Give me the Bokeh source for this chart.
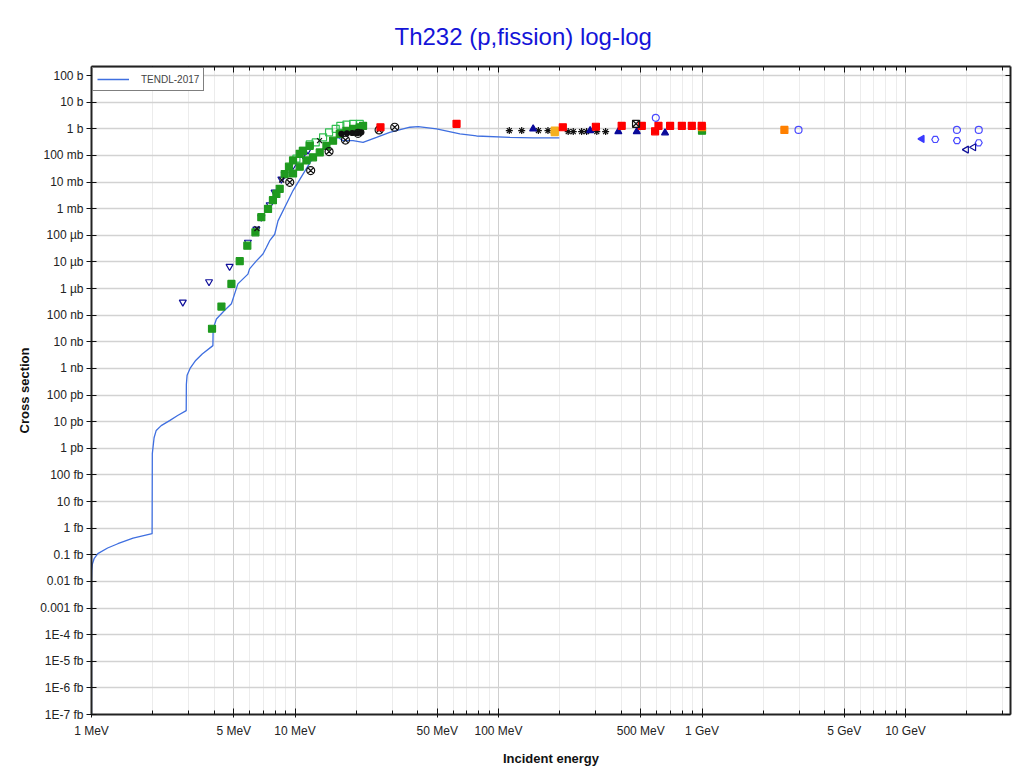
from bokeh.plotting import figure
from bokeh.models import (LogAxis, FixedTicker, ColumnDataSource, Legend, LegendItem,
                          Title, CustomJSTickFormatter, Range1d, Grid, LogScale)
from bokeh.embed import file_html
from bokeh.resources import INLINE

# ---------------- data (energy in MeV, cross section in barn) ----------------
tendl_E = [1.0, 1.0, 1.003, 1.01, 1.03, 1.074, 1.2, 1.347, 1.6, 1.985, 1.99, 2.03, 2.08, 2.2,
           2.42, 2.65, 2.92, 2.925, 2.95, 3.05, 3.25, 3.5, 3.95, 3.96, 4.11, 4.5, 4.87, 5.05,
           5.24, 5.87, 5.98, 6.46, 6.96, 7.23, 7.51, 7.95, 8.25, 9.07, 9.78, 10.95, 12.04,
           13.73, 15.38, 16.27, 17.22, 19.29, 21.6, 25.15, 29.2, 36.7, 40.3, 49.6, 64.6, 78.0,
           113.8, 148.0, 199.0]
tendl_xs = [3.2e-23, 1e-17, 2.5e-17, 4.5e-17, 7.1e-17, 1.1e-16, 1.8e-16, 2.6e-16, 4.2e-16,
            6.2e-16, 6.3e-13, 2.5e-12, 4.7e-12, 7.1e-12, 1.1e-11, 1.7e-11, 2.6e-11, 2.5e-10,
            5.6e-10, 1.0e-9, 2.0e-9, 3.5e-9, 7.2e-9, 3.1e-8, 7.2e-8, 1.5e-7, 2.7e-7, 6.3e-7,
            1.5e-6, 3.5e-6, 5.5e-6, 1.1e-5, 2.0e-5, 3.5e-5, 6.3e-5, 1.1e-4, 3.5e-4, 1.5e-3,
            4.8e-3, 0.020, 0.065, 0.18, 0.36, 0.48, 0.36, 0.36, 0.31, 0.48, 0.74, 1.15, 1.22,
            1.0, 0.65, 0.54, 0.48, 0.46, 0.46]

green_fill_E = [3.91, 4.35, 4.87, 5.35, 5.83, 6.39, 6.83, 7.37, 7.79, 8.10, 8.41, 8.90, 9.34,
                9.78, 10.55, 10.94, 11.81, 9.78, 10.55, 11.38, 12.26, 13.23, 14.27, 15.38,
                16.6, 17.9, 19.3, 20.8, 21.6, 1000.0]
green_fill_xs = [3.1e-8, 2.1e-7, 1.5e-6, 1.07e-5, 4.1e-5, 1.3e-4, 4.8e-4, 9.8e-4, 2.1e-3,
                 3.6e-3, 5.6e-3, 0.020, 0.038, 0.065, 0.115, 0.15, 0.23, 0.021, 0.038, 0.065,
                 0.085, 0.13, 0.23, 0.36, 0.65, 0.85, 1.0, 1.15, 1.3, 0.85]

navy_tri_down_E = [2.81, 3.78, 4.77, 5.87, 6.46, 6.83, 7.51, 7.94, 8.57, 8.90, 9.78, 10.94, 11.58]
navy_tri_down_xs = [3.1e-7, 1.8e-6, 6.8e-6, 5.5e-5, 1.7e-4, 4.8e-4, 1.4e-3, 4.2e-3, 0.013,
                    0.020, 0.042, 0.107, 0.16]

green_open_E = [10.16, 10.94, 11.81, 12.64, 13.74, 14.7, 15.85, 16.7, 17.9, 19.3, 20.8]
green_open_xs = [0.076, 0.15, 0.26, 0.31, 0.48, 0.74, 1.0, 1.3, 1.45, 1.55, 1.55]

circx_E = [9.42, 11.94, 14.7, 17.7, 20.4, 25.9, 30.9]
circx_xs = [9.8e-3, 0.027, 0.14, 0.38, 0.68, 0.91, 1.15]

black_dot_E = [16.9, 18.0, 19.1, 20.3, 21.2]
black_dot_xs = [0.65, 0.68, 0.70, 0.70, 0.74]

black_x_E = [6.5, 8.6, 13.2]
black_x_xs = [1.8e-4, 0.012, 0.36]

aster_E = [113.0, 130.0, 157.0, 175.0, 220.0, 233.0, 256.0, 271.0, 304.0, 336.0]
aster_xs = [0.86, 0.86, 0.86, 0.86, 0.79, 0.79, 0.79, 0.79, 0.79, 0.79]

navy_tri_E = [148.0, 282.0, 388.0, 478.0, 658.0]
navy_tri_xs = [1.0, 0.86, 0.79, 0.79, 0.71]

gold_sq_E = [189.0, 189.0]
gold_sq_xs = [0.86, 0.75]

orange_sq_E = [1000.0, 2540.0]
orange_sq_xs = [1.15, 0.91]

red_sq_E = [26.3, 62.2, 207.0, 301.0, 403.0, 506.0, 588.0, 611.0, 697.0, 796.0, 891.0, 997.0]
red_sq_xs = [1.15, 1.55, 1.15, 1.2, 1.3, 1.3, 0.81, 1.3, 1.3, 1.3, 1.3, 1.3]

sqx_E = [474.0]
sqx_xs = [1.55]

blue_d_E = [593.0, 2980.0, 17900.0, 22900.0]
blue_d_xs = [2.6, 0.91, 0.91, 0.91]

blue_house_E = [14000.0, 17900.0, 22900.0]
blue_house_xs = [0.40, 0.36, 0.30]

blue_left_E = [12050.0]
blue_left_xs = [0.42]

navy_left_E = [19900.0, 21600.0]
navy_left_xs = [0.166, 0.204]

# ---------------- ticks ----------------
y_ticks = [1e2, 1e1, 1e0, 1e-1, 1e-2, 1e-3, 1e-4, 1e-5, 1e-6, 1e-7, 1e-8, 1e-9, 1e-10,
           1e-11, 1e-12, 1e-13, 1e-14, 1e-15, 1e-16, 1e-17, 1e-18, 1e-19, 1e-20, 1e-21, 1e-22]
y_labels = ["100 b", "10 b", "1 b", "100 mb", "10 mb", "1 mb", "100 \u00b5b", "10 \u00b5b",
            "1 \u00b5b", "100 nb", "10 nb", "1 nb", "100 pb", "10 pb", "1 pb", "100 fb",
            "10 fb", "1 fb", "0.1 fb", "0.01 fb", "0.001 fb", "1E-4 fb", "1E-5 fb",
            "1E-6 fb", "1E-7 fb"]
x_ticks = [1, 5, 10, 50, 100, 500, 1000, 5000, 10000]
x_labels = ["1 MeV", "5 MeV", "10 MeV", "50 MeV", "100 MeV", "500 MeV", "1 GeV", "5 GeV",
            "10 GeV"]
x_minor = [m * d for d in (1, 10, 100, 1000, 10000) for m in (2, 3, 4, 6, 7, 8, 9)
           if m * d <= 32000]

FONT = "Liberation Sans"

p = figure(width=1016, height=770, x_axis_type=None, y_axis_type=None,
           x_range=Range1d(1, 32800), y_range=Range1d(1e-22, 220),
           output_backend="svg", toolbar_location=None,
           min_border_left=91, min_border_right=6, min_border_top=66, min_border_bottom=56,
           background_fill_color="white", border_fill_color="white")
p.x_scale = LogScale()
p.y_scale = LogScale()
p.outline_line_color = None

fmt_code = """
const i = tv.findIndex(t => Math.abs(Math.log10(t) - Math.log10(tick)) < 1e-6);
return i >= 0 ? lab[i] : "";
"""
blank = CustomJSTickFormatter(code="return '';")

xt = FixedTicker(ticks=x_ticks, minor_ticks=x_minor)
yt = FixedTicker(ticks=y_ticks, minor_ticks=[])

bottom = LogAxis(ticker=xt, formatter=CustomJSTickFormatter(args=dict(tv=x_ticks, lab=x_labels), code=fmt_code),
                 axis_label="Incident energy")
left = LogAxis(ticker=yt, formatter=CustomJSTickFormatter(args=dict(tv=y_ticks, lab=y_labels), code=fmt_code),
               axis_label="Cross section")
top = LogAxis(ticker=FixedTicker(ticks=x_ticks, minor_ticks=x_minor), formatter=blank)
right = LogAxis(ticker=FixedTicker(ticks=y_ticks, minor_ticks=[]), formatter=blank)

for ax in (bottom, left, top, right):
    ax.axis_line_color = "#222222"
    ax.axis_line_width = 2
    ax.major_tick_line_color = "#111111"
    ax.minor_tick_line_color = "#111111"
    ax.major_label_text_font = FONT
    ax.major_label_text_font_size = "12px"
    ax.major_label_text_color = "#222222"
    ax.axis_label_text_font = FONT
    ax.axis_label_text_font_size = "13px"
    ax.axis_label_text_font_style = "bold"
    ax.axis_label_text_color = "#111111"

bottom.major_tick_in = 6
bottom.major_tick_out = 3
bottom.minor_tick_in = 4
bottom.minor_tick_out = 0
bottom.major_label_standoff = 6
bottom.axis_label_standoff = 10

left.major_tick_in = 5
left.major_tick_out = 5
left.major_label_standoff = 3
left.axis_label_standoff = 5

top.major_tick_in = 6
top.major_tick_out = 0
top.minor_tick_in = 4
top.minor_tick_out = 0
top.major_label_text_font_size = "1px"

right.major_tick_in = 5
right.major_tick_out = 0
right.major_label_text_font_size = "1px"

p.add_layout(bottom, "below")
p.add_layout(left, "left")
p.add_layout(top, "above")
p.add_layout(right, "right")

xg = Grid(dimension=0, ticker=xt, grid_line_color="#cfcfcf", grid_line_width=1,
          minor_grid_line_color="#ececec", minor_grid_line_width=1)
yg = Grid(dimension=1, ticker=yt, grid_line_color="#d2d2d2", grid_line_width=1.5)
p.add_layout(xg)
p.add_layout(yg)

p.title = Title(text="Th232 (p,fission) log-log", align="left", offset=303,
                text_font=FONT, text_font_size="24px", text_font_style="normal",
                text_color="#1414d8", standoff=33)

# ---------------- renderers ----------------
line = p.line(tendl_E, tendl_xs, line_color="#3f6fe0", line_width=1.3)

def pts(E, xs, marker, size=7, line_color=None, fill_color=None, line_width=1.2, angle=0.0):
    src = ColumnDataSource(dict(x=E, y=xs))
    p.scatter("x", "y", source=src, marker=marker, size=size, angle=angle,
              line_color=line_color, fill_color=fill_color, line_width=line_width)

pts(navy_tri_down_E, navy_tri_down_xs, "inverted_triangle", 7, "#10109a", "white")
pts(green_open_E, green_open_xs, "square", 7, "#30c050", None)
pts(green_fill_E, green_fill_xs, "square", 7, "#1f9a1f", "#1f9a1f")
pts(circx_E, circx_xs, "circle_x", 8, "#111111", None)
pts(black_dot_E, black_dot_xs, "circle", 5, "#111111", "#111111")
pts(black_x_E, black_x_xs, "x", 7, "#111111", None)
pts(aster_E, aster_xs, "asterisk", 7, "#111111", None)
pts(navy_tri_E, navy_tri_xs, "triangle", 7, "#0a0a9a", "#0a0a9a")
pts(gold_sq_E, gold_sq_xs, "square", 7, "#f5b020", "#f5b020")
pts(orange_sq_E, orange_sq_xs, "square", 7, "#ff8000", "#ff8000")
pts(red_sq_E, red_sq_xs, "square", 7, "#ff0000", "#ff0000")
pts(sqx_E, sqx_xs, "square_x", 7, "#111111", None)
pts(blue_d_E, blue_d_xs, "circle", 7, "#4a4aff", None)
pts(blue_house_E, blue_house_xs, "hex", 7, "#4a4aff", None)
pts(blue_left_E, blue_left_xs, "triangle", 7, "#3a3aff", "#3a3aff", angle=1.5708)
pts(navy_left_E, navy_left_xs, "triangle", 7, "#10109a", None, angle=1.5708)

legend = Legend(items=[LegendItem(label="TENDL-2017", renderers=[line])], location="top_left")
legend.margin = 1
legend.padding = 4
legend.spacing = 0
legend.glyph_width = 32
legend.glyph_height = 14
legend.label_standoff = 12
legend.label_text_font = FONT
legend.label_text_font_size = "10px"
legend.label_height = 14
legend.border_line_color = "black"
legend.border_line_width = 1
legend.background_fill_alpha = 1.0
p.add_layout(legend)

open("out.html", "w").write(file_html(p, INLINE))
